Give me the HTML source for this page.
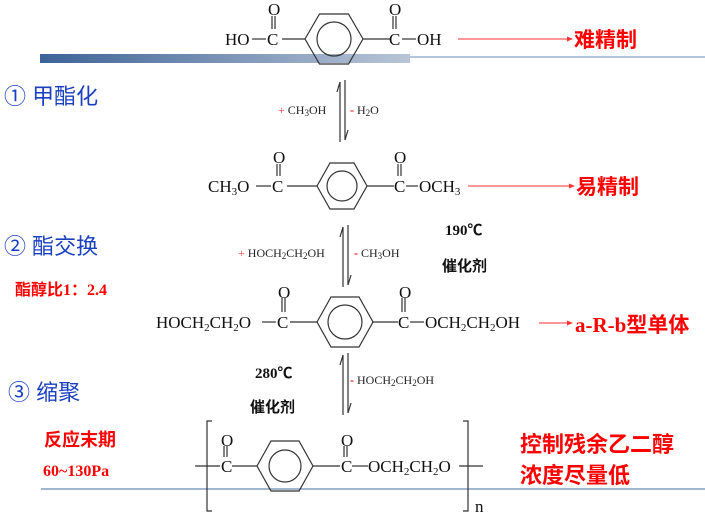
<!DOCTYPE html>
<html><head><meta charset="utf-8"><style>
body{margin:0;background:#fff;width:705px;height:518px;overflow:hidden}
svg{display:block}
.m{font-family:"Liberation Serif",serif;font-size:17px;fill:#111}
.s{font-family:"Liberation Serif",serif;font-size:12px;fill:#222}
.b{font-family:"Liberation Sans","Noto Sans CJK SC",sans-serif;font-size:22px;fill:#1a3fbf}
.r{font-family:"Liberation Serif","Noto Sans CJK SC",serif;fill:#f00;font-weight:bold}
.k{font-family:"Liberation Serif","Noto Sans CJK SC",serif;font-size:15px;font-weight:bold;fill:#111}
</style></head><body>
<svg width="705" height="518" viewBox="0 0 705 518" xmlns="http://www.w3.org/2000/svg">
<defs>
<linearGradient id="g" x1="0" x2="1"><stop offset="0" stop-color="#3d6397"/><stop offset="1" stop-color="#b9c5d6"/></linearGradient>
<marker id="ar" markerWidth="6" markerHeight="6" refX="5" refY="3" orient="auto"><path d="M0,0.5 L6,3 L0,5.5z" fill="#f33"/></marker>
</defs>
<line x1="40" y1="57" x2="705" y2="57" stroke="#6a8ab4" stroke-width="1"/>
<rect x="40" y="54" width="370" height="9" fill="url(#g)"/>
<line x1="41" y1="489" x2="705" y2="489" stroke="#6a8ab4" stroke-width="1.2"/>

<g stroke="#333" stroke-width="1.2" fill="none">
<polygon points="305,39 319.5,14 348.5,14 363,39 348.5,64 319.5,64"/><circle cx="334" cy="39" r="17"/>
<line x1="282" y1="39" x2="305" y2="39"/><line x1="363" y1="39" x2="390" y2="39"/>
<line x1="252" y1="39" x2="266" y2="39"/><line x1="402" y1="39" x2="416" y2="39"/>
<line x1="272" y1="16" x2="272" y2="29"/><line x1="275" y1="16" x2="275" y2="29"/>
<line x1="393" y1="16" x2="393" y2="29"/><line x1="396" y1="16" x2="396" y2="29"/>
<polygon points="317,186 330,163 354,163 367,186 354,209 330,209"/><circle cx="342" cy="186" r="15"/>
<line x1="287" y1="186" x2="317" y2="186"/><line x1="367" y1="186" x2="394" y2="186"/>
<line x1="256" y1="186" x2="271" y2="186"/><line x1="406" y1="186" x2="418" y2="186"/>
<line x1="277" y1="164" x2="277" y2="176"/><line x1="280" y1="164" x2="280" y2="176"/>
<line x1="398" y1="164" x2="398" y2="176"/><line x1="401" y1="164" x2="401" y2="176"/>
<polygon points="317,322 331,297 359,297 373,322 359,347 331,347"/><circle cx="345" cy="322" r="17"/>
<line x1="290" y1="322" x2="317" y2="322"/><line x1="373" y1="322" x2="398" y2="322"/>
<line x1="262" y1="322" x2="276" y2="322"/><line x1="410" y1="322" x2="424" y2="322"/>
<line x1="282" y1="298" x2="282" y2="312"/><line x1="285" y1="298" x2="285" y2="312"/>
<line x1="402" y1="298" x2="402" y2="312"/><line x1="405" y1="298" x2="405" y2="312"/>
<polygon points="257,466 271,441 299,441 313,466 299,491 271,491"/><circle cx="285" cy="466" r="16"/>
<line x1="232" y1="466" x2="257" y2="466"/><line x1="313" y1="466" x2="340" y2="466"/>
<line x1="195" y1="466" x2="220" y2="466"/><line x1="352" y1="466" x2="368" y2="466"/>
<line x1="459" y1="466" x2="483" y2="466"/>
<line x1="224" y1="446" x2="224" y2="457"/><line x1="227" y1="446" x2="227" y2="457"/>
<line x1="344" y1="446" x2="344" y2="457"/><line x1="347" y1="446" x2="347" y2="457"/>
<path d="M212,421 H207 V511 H212"/><path d="M463,421 H468 V511 H463"/>
<path d="M340,142 V82 L337,92"/><path d="M345,80 V140 L348,130"/>
<path d="M343,287 V227 L340,237"/><path d="M348,225 V285 L351,275"/>
<path d="M343,415 V355 L340,365"/><path d="M348,353 V413 L351,403"/>
</g>
<text class="m" x="225" y="45">HO</text><text class="m" x="267" y="45">C</text><text class="m" x="268" y="15">O</text>
<text class="m" x="389" y="45">C</text><text class="m" x="389" y="15">O</text><text class="m" x="417" y="45">OH</text>
<text class="m" x="208" y="192">CH<tspan font-size="11" dy="3">3</tspan><tspan dy="-3">O</tspan></text>
<text class="m" x="272" y="192">C</text><text class="m" x="273" y="163">O</text>
<text class="m" x="394" y="192">C</text><text class="m" x="394" y="163">O</text>
<text class="m" x="419" y="192">OCH<tspan font-size="11" dy="3">3</tspan></text>
<text class="m" x="156" y="328">HOCH<tspan font-size="11" dy="3">2</tspan><tspan dy="-3">CH</tspan><tspan font-size="11" dy="3">2</tspan><tspan dy="-3">O</tspan></text>
<text class="m" x="277" y="328">C</text><text class="m" x="278" y="298">O</text>
<text class="m" x="398" y="328">C</text><text class="m" x="399" y="298">O</text>
<text class="m" x="425" y="328">OCH<tspan font-size="11" dy="3">2</tspan><tspan dy="-3">CH</tspan><tspan font-size="11" dy="3">2</tspan><tspan dy="-3">OH</tspan></text>
<text class="m" x="221" y="472">C</text><text class="m" x="221" y="446">O</text>
<text class="m" x="341" y="472">C</text><text class="m" x="341" y="446">O</text>
<text class="m" x="368" y="472">OCH<tspan font-size="11" dy="3">2</tspan><tspan dy="-3">CH</tspan><tspan font-size="11" dy="3">2</tspan><tspan dy="-3">O</tspan></text>
<text class="m" x="475" y="512" font-size="14">n</text>
<text class="s" x="278" y="114"><tspan fill="#f44">+</tspan> CH<tspan font-size="9" dy="2">3</tspan><tspan dy="-2">OH</tspan></text>
<text class="s" x="350" y="114"><tspan fill="#f00" font-weight="bold">-</tspan> H<tspan font-size="9" dy="2">2</tspan><tspan dy="-2">O</tspan></text>
<text class="s" x="238" y="257"><tspan fill="#f44">+</tspan> HOCH<tspan font-size="9" dy="2">2</tspan><tspan dy="-2">CH</tspan><tspan font-size="9" dy="2">2</tspan><tspan dy="-2">OH</tspan></text>
<text class="s" x="354" y="257"><tspan fill="#f00" font-weight="bold">-</tspan> CH<tspan font-size="9" dy="2">3</tspan><tspan dy="-2">OH</tspan></text>
<text class="s" x="350" y="384"><tspan fill="#f00" font-weight="bold">-</tspan> HOCH<tspan font-size="9" dy="2">2</tspan><tspan dy="-2">CH</tspan><tspan font-size="9" dy="2">2</tspan><tspan dy="-2">OH</tspan></text>
<text class="k" x="445" y="235">190℃</text><text class="k" x="442" y="271">催化剂</text>
<text class="k" x="255" y="378">280℃</text><text class="k" x="250" y="412">催化剂</text>
<g stroke="#f33" stroke-width="1" marker-end="url(#ar)">
<line x1="458" y1="39" x2="572" y2="39"/><line x1="468" y1="186" x2="574" y2="186"/><line x1="539" y1="323" x2="572" y2="323"/>
</g>
<text class="r" x="574" y="47" font-size="21">难精制</text>
<text class="r" x="576" y="194" font-size="21">易精制</text>
<text class="r" x="575" y="332" font-size="21">a-R-b型单体</text>
<text class="r" x="520" y="452" font-size="22">控制残余乙二醇</text>
<text class="r" x="520" y="483" font-size="22">浓度尽量低</text>
<text class="b" x="4" y="104">① 甲酯化</text>
<text class="b" x="4" y="254">② 酯交换</text>
<text class="r" x="15" y="295" font-size="16">酯醇比1：2.4</text>
<text class="b" x="8" y="400">③ 缩聚</text>
<text class="r" x="44" y="446" font-size="18">反应末期</text>
<text class="r" x="43" y="476" font-size="16">60~130Pa</text>
</svg>
</body></html>
